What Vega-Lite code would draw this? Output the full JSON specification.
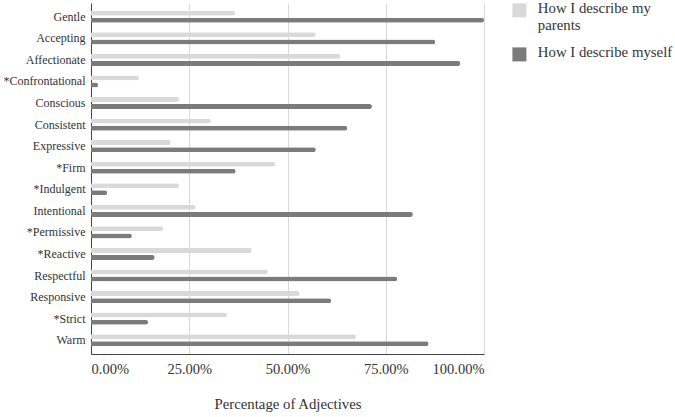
{
  "$schema": "https://vega.github.io/schema/vega-lite/v6.json",
  "description": "How I describe my parents vs myself",
  "width": 393,
  "height": 351,
  "padding": {"left": 3, "top": 3, "right": 2, "bottom": 3},
  "data": {
    "values": [
      {"adjective": "Gentle", "series": "How I describe my parents", "value": 0.367},
      {"adjective": "Gentle", "series": "How I describe myself", "value": 1.0},
      {"adjective": "Accepting", "series": "How I describe my parents", "value": 0.572},
      {"adjective": "Accepting", "series": "How I describe myself", "value": 0.876},
      {"adjective": "Affectionate", "series": "How I describe my parents", "value": 0.634},
      {"adjective": "Affectionate", "series": "How I describe myself", "value": 0.94},
      {"adjective": "*Confrontational", "series": "How I describe my parents", "value": 0.122},
      {"adjective": "*Confrontational", "series": "How I describe myself", "value": 0.018},
      {"adjective": "Conscious", "series": "How I describe my parents", "value": 0.224},
      {"adjective": "Conscious", "series": "How I describe myself", "value": 0.715},
      {"adjective": "Consistent", "series": "How I describe my parents", "value": 0.305},
      {"adjective": "Consistent", "series": "How I describe myself", "value": 0.652},
      {"adjective": "Expressive", "series": "How I describe my parents", "value": 0.203},
      {"adjective": "Expressive", "series": "How I describe myself", "value": 0.572},
      {"adjective": "*Firm", "series": "How I describe my parents", "value": 0.469},
      {"adjective": "*Firm", "series": "How I describe myself", "value": 0.368},
      {"adjective": "*Indulgent", "series": "How I describe my parents", "value": 0.224},
      {"adjective": "*Indulgent", "series": "How I describe myself", "value": 0.041},
      {"adjective": "Intentional", "series": "How I describe my parents", "value": 0.266},
      {"adjective": "Intentional", "series": "How I describe myself", "value": 0.819},
      {"adjective": "*Permissive", "series": "How I describe my parents", "value": 0.184},
      {"adjective": "*Permissive", "series": "How I describe myself", "value": 0.104},
      {"adjective": "*Reactive", "series": "How I describe my parents", "value": 0.409},
      {"adjective": "*Reactive", "series": "How I describe myself", "value": 0.162},
      {"adjective": "Respectful", "series": "How I describe my parents", "value": 0.45},
      {"adjective": "Respectful", "series": "How I describe myself", "value": 0.779},
      {"adjective": "Responsive", "series": "How I describe my parents", "value": 0.531},
      {"adjective": "Responsive", "series": "How I describe myself", "value": 0.611},
      {"adjective": "*Strict", "series": "How I describe my parents", "value": 0.346},
      {"adjective": "*Strict", "series": "How I describe myself", "value": 0.145},
      {"adjective": "Warm", "series": "How I describe my parents", "value": 0.674},
      {"adjective": "Warm", "series": "How I describe myself", "value": 0.859}
    ]
  },
  "mark": {"type": "bar", "cornerRadiusEnd": 2.5},
  "encoding": {
    "y": {
      "field": "adjective",
      "type": "nominal",
      "sort": null,
      "scale": {"paddingInner": 0.44, "paddingOuter": 0.36},
      "axis": {
        "title": null,
        "ticks": false,
        "labelPadding": 6,
        "labelFontSize": 12,
        "domainColor": "#444",
        "grid": false
      }
    },
    "yOffset": {
      "field": "series",
      "type": "nominal",
      "sort": ["How I describe my parents", "How I describe myself"],
      "scale": {"paddingInner": 0.3}
    },
    "x": {
      "field": "value",
      "type": "quantitative",
      "scale": {"domain": [0, 1], "nice": false},
      "axis": {
        "title": "Percentage of Adjectives",
        "format": ".2%",
        "values": [0, 0.25, 0.5, 0.75, 1],
        "ticks": false,
        "labelPadding": 8,
        "labelFontSize": 14.5,
        "titleFontSize": 14.8,
        "titleFontWeight": "normal",
        "titlePadding": 21,
        "domainColor": "#444",
        "gridColor": "#d9d9d9"
      }
    },
    "color": {
      "field": "series",
      "type": "nominal",
      "scale": {
        "domain": ["How I describe my parents", "How I describe myself"],
        "range": ["#d9d9d9", "#7b7b7b"]
      },
      "legend": {
        "title": null,
        "orient": "right",
        "offset": 28,
        "symbolType": "square",
        "symbolSize": 196,
        "symbolStrokeWidth": 0,
        "symbolOpacity": 1,
        "labelFontSize": 14.8,
        "labelOffset": 11,
        "labelBaseline": "top",
        "labelLimit": 200,
        "rowPadding": 12,
        "labelExpr": "datum.label == 'How I describe my parents' ? ['How I describe my', 'parents'] : datum.label",
        "encode": {
          "labels": {"update": {"dy": {"value": -9}}}
        }
      }
    }
  },
  "config": {
    "font": "Liberation Serif",
    "view": {"stroke": null},
    "axis": {
      "labelColor": "#333",
      "titleColor": "#333",
      "labelFont": "Liberation Serif",
      "titleFont": "Liberation Serif"
    },
    "legend": {"labelColor": "#333", "labelFont": "Liberation Serif"}
  }
}
